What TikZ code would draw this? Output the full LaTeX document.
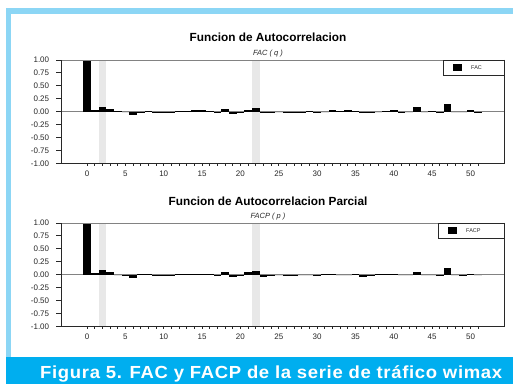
\documentclass[tikz,border=0pt]{standalone}
\usepackage{fontspec}
\setmainfont{Liberation Sans}
\newfontfamily\capfont[FakeStretch=0.84,LetterSpace=3]{Liberation Sans}
\usepackage{graphicx}
\definecolor{lightblue}{RGB}{140,214,245}
\definecolor{capcyan}{RGB}{0,174,239}
\definecolor{bandgray}{RGB}{232,232,232}
\definecolor{framegray}{RGB}{130,130,130}
\definecolor{axisblack}{RGB}{40,40,40}
\tikzset{
  ticklabel/.style={inner sep=0pt, font=\fontsize{8}{8}\selectfont, text=axisblack},
  titletext/.style={inner sep=0pt, font=\fontsize{11.8}{12}\selectfont\bfseries},
  subtext/.style={inner sep=0pt, anchor=base, font=\fontsize{7.5}{8}\selectfont\itshape, text=axisblack},
  legendbox/.style={draw=axisblack, fill=white, line width=0.8pt},
  legendtext/.style={inner sep=0pt, anchor=west, font=\fontsize{5.5}{6}\selectfont, text=axisblack},
  framegrayline/.style={draw=framegray, line width=0.8pt},
  axisline/.style={draw=axisblack, line width=0.8pt},
}
\newcommand{\drawpanel}[2]{%
  \begin{scope}[shift={(87pt,-#1pt)},x=7.67pt,y=51.8pt]
    \fill[bandgray] (1.5,-1) rectangle (2.5,1);
    \fill[bandgray] (21.5,-1) rectangle (22.5,1);
    \draw[framegrayline] (-3.4,0) -- (54.4,0);
    \foreach \v [count=\i from 0] in {#2} {
      \fill[black] (\i-0.5,0) rectangle (\i+0.5,\v);
    }
    \draw[framegrayline] (-3.4,1) -- (54.4,1);
    \draw[axisline] (54.4,1) -- (54.4,-1) -- (-3.4,-1) -- (-3.4,1);
    \foreach \t/\l in {1/1.00,0.75/0.75,0.5/0.50,0.25/0.25,0/0.00,-0.25/-0.25,-0.5/-0.50,-0.75/-0.75,-1/-1.00} {
      \draw[axisline] (-3.4,\t) -- ++(-4.5pt,0pt);
      \node[ticklabel, anchor=east, xshift=-11.6pt] at (-3.4,\t) {\l};
    }
    \foreach \k in {0,...,51} {
      \draw[axisline] (\k,-1) -- ++(0pt,-2.8pt);
    }
    \foreach \k in {0,5,...,50} {
      \node[ticklabel, yshift=-10pt] at (\k,-1) {\k};
    }
  \end{scope}}
\begin{document}
\begin{tikzpicture}[x=1pt,y=-1pt]
  \useasboundingbox (0,0) rectangle (513,384);
  \fill[white] (0,0) rectangle (513,384);
  % border and caption band
  \fill[lightblue] (6,8) rectangle (513,357);
  \fill[white] (11,14) rectangle (513,357);
  \fill[capcyan] (6,357) rectangle (513,384);

  % panel 1
  \drawpanel{111.7}{1.0,0.025,0.085,0.05,0.02,0.0,-0.065,-0.005,0.005,-0.02,-0.02,-0.01,0.015,0.01,0.03,0.03,0.02,-0.02,0.05,-0.05,-0.03,0.04,0.07,-0.03,-0.01,0.0,-0.03,-0.01,-0.03,0.01,-0.02,0.0,0.03,0.01,0.03,0.02,-0.02,-0.01,0.0,0.01,0.03,-0.01,0.0,0.085,0.0,0.01,-0.02,0.148,0.0,0.0,0.03,-0.01}
  \node[titletext] (t1) at (268,37.7) {Funcion de Autocorrelacion};
  \node[subtext] (s1) at (268,55) {FAC ( q )};
  \draw[legendbox] (443.3,60.3) rectangle (504.3,75.3);
  \fill[black] (452.7,64.3) rectangle (462,71);
  \node[legendtext] (l1) at (471,67.8) {FAC};

  % panel 2
  \drawpanel{274.7}{1.0,0.025,0.085,0.045,0.0,-0.01,-0.06,0.01,0.015,-0.01,-0.02,-0.01,0.01,0.015,0.02,0.015,0.005,-0.03,0.05,-0.05,-0.03,0.05,0.08,-0.04,-0.01,0.0,-0.02,-0.01,0.0,0.0,-0.02,0.01,0.02,0.0,0.0,0.02,-0.04,-0.01,0.02,0.02,0.02,0.0,0.0,0.05,0.0,0.0,-0.02,0.13,0.0,-0.01,0.02,0.0}
  \node[titletext] (t2) at (268,201) {Funcion de Autocorrelacion Parcial};
  \node[subtext] (s2) at (268,218.5) {FACP ( p )};
  \draw[legendbox] (438.7,222.9) rectangle (504.3,238.3);
  \fill[black] (448.2,227.3) rectangle (456.7,234.3);
  \node[legendtext] (l2) at (466,230.8) {FACP};

  % caption
  \node[anchor=base west, inner sep=0pt, text=white] (cap) at (40,378.3)
    {\resizebox{462pt}{\height}{\fontsize{17.5}{18}\capfont\bfseries Figura 5. FAC y FACP de la serie de tráfico wimax}};
\end{tikzpicture}
\end{document}
